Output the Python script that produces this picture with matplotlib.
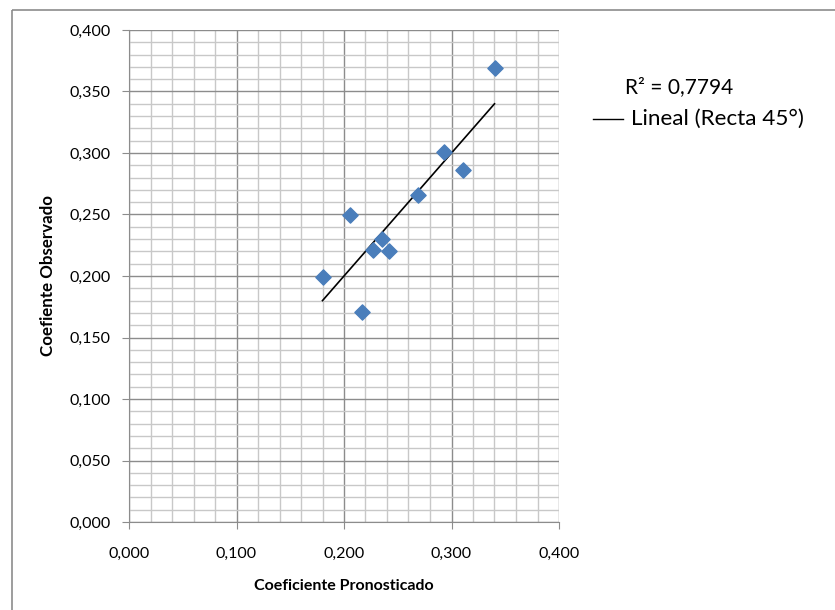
import matplotlib.pyplot as plt
from matplotlib.ticker import MultipleLocator, FuncFormatter
from matplotlib.patches import Rectangle

# data
pronosticado = [0.3405, 0.2930, 0.3107, 0.2690, 0.2053, 0.2357, 0.2270, 0.2422, 0.1802, 0.2164]
observado = [0.3690, 0.3010, 0.2860, 0.2660, 0.2500, 0.2300, 0.2210, 0.2205, 0.1995, 0.1705]
recta_x = [0.18, 0.34]
recta_y = [0.18, 0.34]
r2_text = "R² = 0,7794"

plt.rcParams['font.family'] = ['Lato', 'DejaVu Sans']

W, H = 835, 610
fig = plt.figure(figsize=(W / 100, H / 100), dpi=100)

# outer chart frame (runs off the image on the right and bottom)
fig.patches.append(Rectangle((12 / W, 1 - 10 / H), 2, -2, transform=fig.transFigure,
                             fill=False, edgecolor='#8c8c8c', linewidth=1.2))

left, right, top, bottom = 129, 559, 30, 522
ax = fig.add_axes([left / W, 1 - bottom / H, (right - left) / W, (bottom - top) / H])

ax.scatter(pronosticado, observado, marker='D', s=60, color='#4a7ebb',
           edgecolors='#4a7ebb', zorder=3)
ax.plot(recta_x, recta_y, color='black', linewidth=1.2, zorder=2)

ax.set_xlim(0, 0.4)
ax.set_ylim(0, 0.4)
ax.xaxis.set_major_locator(MultipleLocator(0.1))
ax.xaxis.set_minor_locator(MultipleLocator(0.02))
ax.yaxis.set_major_locator(MultipleLocator(0.05))
ax.yaxis.set_minor_locator(MultipleLocator(0.01))
fmt = FuncFormatter(lambda v, p: f"{v:.3f}".replace('.', ','))
ax.xaxis.set_major_formatter(fmt)
ax.yaxis.set_major_formatter(fmt)

ax.grid(True, which='major', color='#8c8c8c', linewidth=1.0)
ax.grid(True, which='minor', color='#c8c8c8', linewidth=1.0)
ax.set_axisbelow(True)

for s in ['top', 'right']:
    ax.spines[s].set_visible(False)
for s in ['left', 'bottom']:
    ax.spines[s].set_color('#8c8c8c')
ax.tick_params(which='major', length=5, color='#8c8c8c', labelsize=11.5)
ax.tick_params(which='minor', length=0)
ax.tick_params(axis='y', pad=8)
ax.tick_params(axis='x', pad=13)

ax.set_xlabel("Coeficiente Pronosticado", fontsize=11.5, fontweight='bold')
ax.set_ylabel("Coefiente Observado", fontsize=12.2, fontweight='bold')
ax.xaxis.set_label_coords(0.5, (bottom - 579) / (bottom - top))
ax.yaxis.set_label_coords((56 - left) / (right - left), 0.5)

# legend-like annotations
fig.text(625 / W, 1 - 87 / H, r2_text, fontsize=15, va='center', ha='left')
fig.add_artist(plt.Line2D([593 / W, 623 / W], [1 - 119 / H, 1 - 119 / H],
                          color='black', linewidth=1.0, transform=fig.transFigure))
fig.text(631 / W, 1 - 119 / H, "Lineal (Recta 45°)", fontsize=16.2, va='center', ha='left')

fig.savefig('out.png', dpi=100)
